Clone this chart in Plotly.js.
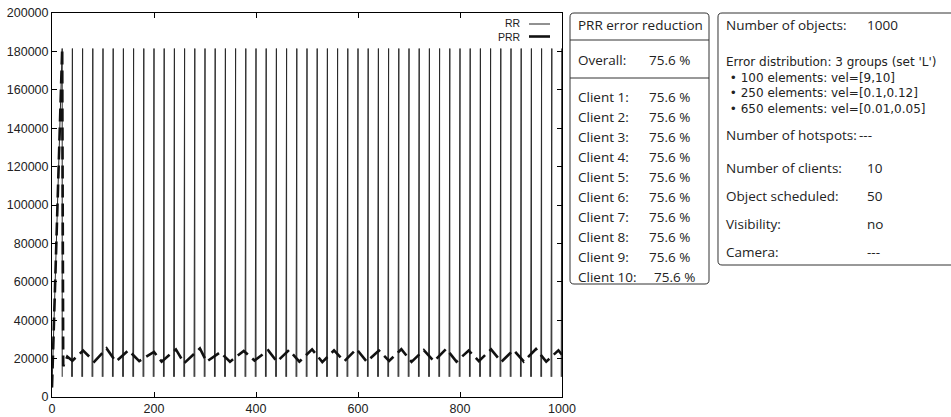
<!DOCTYPE html>
<html>
<head>
<meta charset="utf-8">
<script src="https://cdn.plot.ly/plotly-3.0.1.min.js"></script>
<style>html,body{margin:0;padding:0;background:#fff;}#chart{width:951px;height:417px;}</style>
</head>
<body>
<div id="chart"></div>
<script>
// ---------------- data ----------------
const xTicks = [0, 200, 400, 600, 800, 1000];
const yTicks = [0, 20000, 40000, 60000, 80000, 100000, 120000, 140000, 160000, 180000, 200000];

// RR: round-robin error, one spike every scheduling cycle
const rrStart = [0, 5000];
const rrSpikeX = [20, 40, 60, 80, 100, 120, 140, 160, 180, 200, 220, 240, 260, 280, 300, 320, 340, 360, 380, 400,
                  420, 440, 460, 480, 500, 520, 540, 560, 580, 600, 620, 640, 660, 680, 700, 720, 740, 760, 780, 800,
                  820, 840, 860, 880, 900, 920, 940, 960, 980, 1000];
const rrLow = 10500;
const rrHigh = 181500;

// PRR: prioritized round-robin error (turning points)
const prrX = [0, 20, 22, 30, 40, 61, 83, 107, 125, 150, 171, 200, 215, 243, 259, 290, 303, 330, 349, 376, 397, 424, 441,
              465, 485, 510, 530, 553, 573, 597, 617, 641, 661, 685, 705, 729, 749, 773, 793, 817, 837, 861, 881, 905, 925, 949, 969, 993, 1000];
const prrY = [5000, 181500, 16000, 21000, 18900, 24200, 18400, 25300, 18400, 24300, 18700, 23500, 18400, 24800, 17600, 25300, 18400, 23300, 18400, 24000, 19000, 24300, 18400,
              24500, 18400, 24800, 18200, 24300, 18600, 25000, 18400, 24200, 18800, 24900, 18300, 24400, 18600, 25100, 18400, 24200, 18700, 24800, 18300, 24500, 18500, 25000, 18400, 24300, 22000];

const legendNames = ["RR", "PRR"];

const boxTitle = "PRR error reduction";
const overallLabel = "Overall:";
const overallValue = "75.6 %";
const clientLabels = ["Client 1:", "Client 2:", "Client 3:", "Client 4:", "Client 5:", "Client 6:", "Client 7:", "Client 8:", "Client 9:", "Client 10:"];
const clientValues = ["75.6 %", "75.6 %", "75.6 %", "75.6 %", "75.6 %", "75.6 %", "75.6 %", "75.6 %", "75.6 %", "75.6 %"];

const infoLabels = ["Number of objects:", "Number of hotspots:", "Number of clients:", "Object scheduled:", "Visibility:", "Camera:"];
const infoValues = ["1000", "---", "10", "50", "no", "---"];
const distTitle = "Error distribution: 3 groups (set 'L')";
const distLines = ["\u2022 100 elements: vel=[9,10]", "\u2022 250 elements: vel=[0.1,0.12]", "\u2022 650 elements: vel=[0.01,0.05]"];

// ---------------- build RR trace ----------------
const rrX = [rrStart[0]], rrY = [rrStart[1]];
rrSpikeX.forEach((x, i) => {
  if (i > 0) { rrX.push(x - 1.5); rrY.push(rrLow); }
  rrX.push(x); rrY.push(rrHigh);
  rrX.push(x); rrY.push(rrLow);
  rrX.push(null); rrY.push(null);
});

// ---------------- layout helpers (pixel -> paper) ----------------
const L = 52, R = 562, T = 13, B = 397;
const px = p => (p - L) / (R - L);
const py = p => (B - p) / (B - T);
const pt = (x, y) => px(x).toFixed(5) + ',' + py(y).toFixed(5);
function roundRect(x0, y0, x1, y1, r) {
  return 'M' + pt(x0 + r, y0) + ' L' + pt(x1 - r, y0) + ' Q' + pt(x1, y0) + ' ' + pt(x1, y0 + r) +
         ' L' + pt(x1, y1 - r) + ' Q' + pt(x1, y1) + ' ' + pt(x1 - r, y1) +
         ' L' + pt(x0 + r, y1) + ' Q' + pt(x0, y1) + ' ' + pt(x0, y1 - r) +
         ' L' + pt(x0, y0 + r) + ' Q' + pt(x0, y0) + ' ' + pt(x0 + r, y0) + ' Z';
}
const boxFont = {family: '"Open Sans", Lato, sans-serif', size: 13.5, color: '#222'};
const distFont = {family: '"DejaVu Sans", "Open Sans", sans-serif', size: 12, color: '#222'};
const axisFont = {family: '"Liberation Sans", Arial, sans-serif', size: 12.5, color: '#222'};
const legendFont = {family: '"Liberation Sans", Arial, sans-serif', size: 10.5, color: '#222'};
function txt(text, x, y, font, anchor) {
  return {text: text, xref: 'paper', yref: 'paper', x: px(x), y: py(y), xanchor: anchor || 'left', yanchor: 'middle',
          showarrow: false, font: font || boxFont};
}

const annotations = [];
const shapes = [];

// legend (drawn by hand: text right-aligned, sample to its right)
annotations.push({text: legendNames.join('<br>'), xref: 'paper', yref: 'paper', x: px(523), y: py(30.3),
                  xanchor: 'right', yanchor: 'middle', align: 'right', showarrow: false, font: legendFont});
shapes.push({type: 'line', xref: 'paper', yref: 'paper', x0: px(529), x1: px(550), y0: py(24), y1: py(24), line: {color: '#222', width: 1}});
shapes.push({type: 'line', xref: 'paper', yref: 'paper', x0: px(529), x1: px(550), y0: py(36.5), y1: py(36.5), line: {color: '#111', width: 2.6}});

// box 1
shapes.push({type: 'path', xref: 'paper', yref: 'paper', path: roundRect(570, 13, 709, 284, 4), line: {color: '#333', width: 1}});
shapes.push({type: 'line', xref: 'paper', yref: 'paper', x0: px(570), x1: px(709), y0: py(40), y1: py(40), line: {color: '#333', width: 1}});
shapes.push({type: 'line', xref: 'paper', yref: 'paper', x0: px(570), x1: px(709), y0: py(78), y1: py(78), line: {color: '#333', width: 1}});
annotations.push(txt(boxTitle, 576, 25));
annotations.push(txt(overallLabel, 576, 59.5));
annotations.push(txt(overallValue, 647, 59.5));
clientLabels.forEach((c, i) => {
  const y = 97 + i * 20;
  annotations.push(txt(c, 576, y));
  annotations.push(txt(clientValues[i], i === 9 ? 652 : 647, y));
});

// box 2
shapes.push({type: 'path', xref: 'paper', yref: 'paper', path: roundRect(718, 13, 975, 265, 4), line: {color: '#333', width: 1}});
const infoY = [25, 135, 168, 196, 224, 251.5];
const infoVX = [865, 857, 865, 865, 865, 865];
infoLabels.forEach((l, i) => {
  annotations.push(txt(l, 724, infoY[i]));
  annotations.push(txt(infoValues[i], infoVX[i], infoY[i]));
});
// distribution block: one multi-line text
annotations.push({text: [distTitle].concat(distLines.map(d => '&nbsp;' + d)).join('<br>'), xref: 'paper', yref: 'paper',
                  x: px(724), y: py(86), xanchor: 'left', yanchor: 'middle', align: 'left', showarrow: false, font: distFont});

// ---------------- traces ----------------
const traces = [
  {x: rrX, y: rrY, type: 'scatter', mode: 'lines', name: legendNames[0], connectgaps: false,
   line: {color: '#2a2a2a', width: 1}, hoverinfo: 'skip'},
  {x: prrX, y: prrY, type: 'scatter', mode: 'lines', name: legendNames[1],
   line: {color: '#111', width: 2.6, dash: '13px,6px'}, hoverinfo: 'skip'}
];

const layout = {
  width: 951, height: 417,
  margin: {l: L, r: 951 - R, t: T, b: 417 - B, pad: 0},
  paper_bgcolor: '#fff', plot_bgcolor: '#fff',
  showlegend: false,
  xaxis: {range: [0, 1000], tickvals: xTicks, ticktext: xTicks.map(String), ticks: 'inside', ticklen: 5, tickcolor: '#000',
          showline: true, linecolor: '#000', linewidth: 1, mirror: 'ticks', showgrid: false, zeroline: false,
          tickfont: axisFont},
  yaxis: {range: [0, 200000], tickvals: yTicks, ticktext: yTicks.map(String), ticks: 'inside', ticklen: 5, tickcolor: '#000',
          showline: true, linecolor: '#000', linewidth: 1, mirror: 'ticks', showgrid: false, zeroline: false,
          tickfont: axisFont},
  annotations: annotations,
  shapes: shapes
};

Plotly.newPlot('chart', traces, layout, {staticPlot: true, displayModeBar: false});
</script>
</body>
</html>
